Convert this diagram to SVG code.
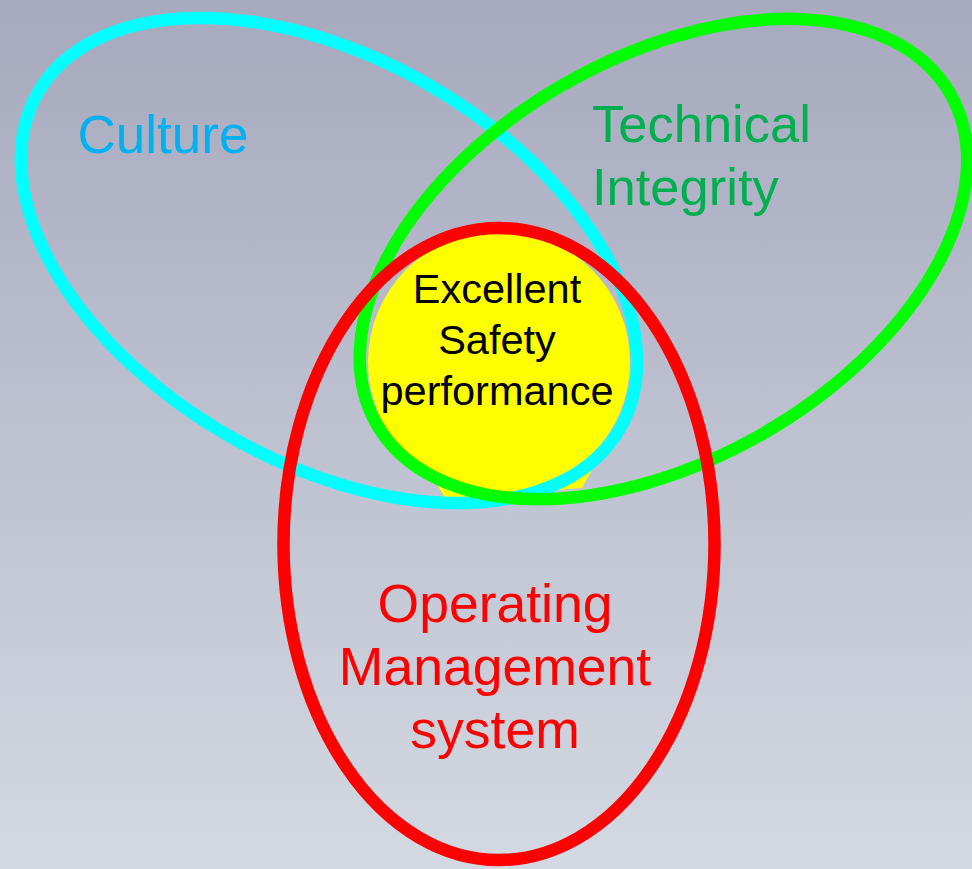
<svg xmlns="http://www.w3.org/2000/svg" width="972" height="869" viewBox="0 0 972 869">
<defs>
<linearGradient id="bg" x1="0" y1="0" x2="0" y2="1">
<stop offset="0" stop-color="#a7a9be"/>
<stop offset="1" stop-color="#d3d9e2"/>
</linearGradient>
</defs>
<style>
.ring{fill:none;stroke-width:12.5}
.t{font-family:"Liberation Sans",Arial,sans-serif;text-anchor:middle}
</style>
<rect width="972" height="869" fill="url(#bg)"/>
<g id="safety">
<polygon points="428,470 446,499 582,488 600,455" fill="#ffff00"/>
<circle cx="499" cy="362" r="131" fill="#ffff00"/>
</g>
<g id="culture">
<ellipse class="ring" stroke="#00ffff" cx="329" cy="260.5" rx="336" ry="202" transform="rotate(30 329 260.5)"/>
</g>
<g id="technical">
<ellipse class="ring" stroke="#00ff00" cx="663.5" cy="259" rx="331" ry="201" transform="rotate(-30 663.5 259)"/>
</g>
<g id="oms">
<ellipse class="ring" stroke="#ff0000" cx="499" cy="544" rx="215.5" ry="316"/>
</g>
<g id="labels">
<text class="t" x="163" y="153" font-size="53" fill="#00b0f0">Culture</text>
<text x="592" y="142" font-size="52.5" fill="#00b050" font-family="Liberation Sans, Arial, sans-serif">Technical</text>
<text x="592" y="205" font-size="52.5" fill="#00b050" font-family="Liberation Sans, Arial, sans-serif">Integrity</text>
<text class="t" x="497" y="303" font-size="41.5" fill="#000">Excellent</text>
<text class="t" x="497" y="354" font-size="41.5" fill="#000">Safety</text>
<text class="t" x="497" y="405" font-size="41.5" fill="#000">performance</text>
<text class="t" x="495" y="622" font-size="53.5" fill="#ff0000">Operating</text>
<text class="t" x="495" y="685" font-size="53.5" fill="#ff0000">Management</text>
<text class="t" x="495" y="748" font-size="53.5" fill="#ff0000">system</text>
</g>
</svg>
